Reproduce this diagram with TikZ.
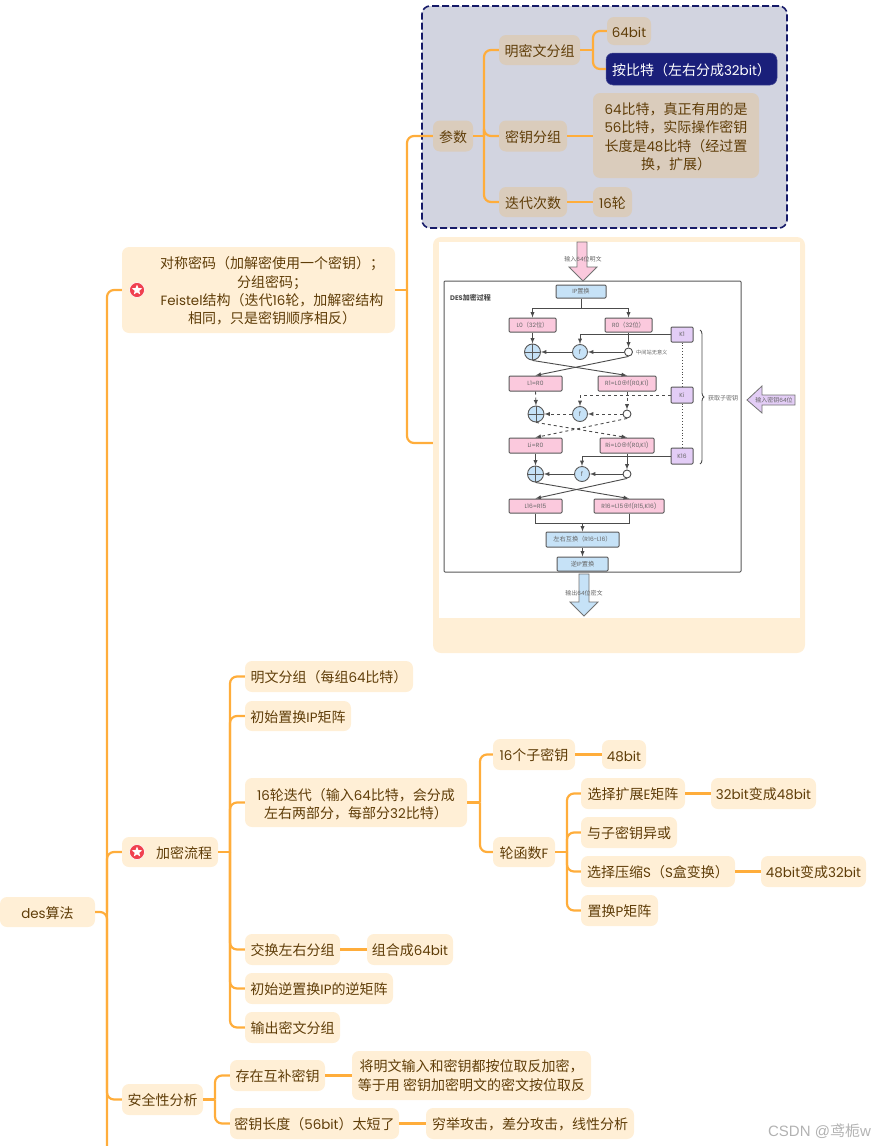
\documentclass[tikz,border=0pt]{standalone}
\usepackage{fontspec}
\setmainfont{Noto Sans CJK SC}
\newfontfamily\latinfont[Scale=0.96]{Poppins}
\newfontfamily\markfont{Liberation Sans}
\newcommand{\lat}[1]{{\latinfont #1}}
\usetikzlibrary{shapes.geometric,decorations.pathreplacing}
\definecolor{inkbrown}{HTML}{5F3D08}
\definecolor{branchcol}{HTML}{FFAD3B}
\definecolor{topiccol}{HTML}{FFEFD6}
\definecolor{tancol}{HTML}{DACCBC}
\definecolor{navycol}{HTML}{1A1F7A}
\definecolor{groupcol}{HTML}{D2D4E0}
\definecolor{pinkcol}{HTML}{FBC9DD}
\definecolor{bluecol}{HTML}{C6E2F7}
\definecolor{purplecol}{HTML}{E3CDF6}
\definecolor{markred}{HTML}{F0404F}
\tikzset{
	topic/.style={fill=topiccol,text=inkbrown,rounded corners=7,inner sep=0,align=center,font=\fontsize{14}{18.4}\selectfont,
		execute at begin node={\rule{0pt}{13.8pt}}},
	param/.style={topic,fill=tancol},
	branch/.style={draw=branchcol,line width=2.2pt,rounded corners=7},
	redmark/.style={circle,fill=markred,draw=white,line width=.6pt,minimum size=15,inner sep=0},
	whitestar/.style={star,star points=5,star point ratio=2.3,fill=white,minimum size=11,inner sep=0},
	flowbox/.style={draw=black!65,line width=1pt,rounded corners=1,inner sep=0,text=black!60,font=\fontsize{6.2}{8}\selectfont},
	pinkbox/.style={flowbox,fill=pinkcol},
	bluebox/.style={flowbox,fill=bluecol},
	keybox/.style={flowbox,fill=purplecol},
	flow/.style={draw=black!70,line width=.9pt,-latex},
	plainflow/.style={draw=black!70,line width=.9pt},
	xorcirc/.style={circle,fill=bluecol,draw=black!65,line width=.9pt,minimum size=16,inner sep=0,
		path picture={\draw[black!65,line width=.8pt] (path picture bounding box.north) -- (path picture bounding box.south)
			(path picture bounding box.west) -- (path picture bounding box.east);}},
	fcirc/.style={circle,fill=bluecol,draw=black!65,line width=.9pt,minimum size=15,inner sep=0,text=black!60,font=\fontsize{6.2}{8}\selectfont},
	midcirc/.style={circle,fill=white,draw=black!70,line width=.9pt,minimum size=8,inner sep=0},
	smalltext/.style={text=black!60,inner sep=0,font=\fontsize{6}{8}\selectfont},
}
\begin{document}
\begin{tikzpicture}[x=1pt,y=-1pt]
	\useasboundingbox (0,0) rectangle (877,1146);

	% parameter group and picture card
	\node[draw=navycol!85!black,fill=groupcol,line width=1.6pt,dash pattern=on 7pt off 3pt,rounded corners=8,minimum width=365,minimum height=222,inner sep=0] (group) at (604.5,117) {};
	\node[fill=topiccol,rounded corners=8,minimum width=372,minimum height=416,inner sep=0] (card) at (619,445) {};
	\node[fill=white,minimum width=361,minimum height=376,inner sep=0] (sheet) at (619.5,430) {};

	% first level
	\node[topic,minimum width=95,minimum height=30] (root) at (47.5,912) {\lat{des}算法};
	\node[topic,minimum width=273,minimum height=86] (sym) at (258.5,290) {};
	\node[topic,fill=none] (symtext) at (272,291) {对称密码（加解密使用一个密钥）；\\分组密码；\\\lat{Feistel}结构（迭代\lat{16}轮，加解密结构\\相同，只是密钥顺序相反）};
	\node[topic,minimum width=96,minimum height=30] (enc) at (170,852) {};
	\node[topic,fill=none] (enctext) at (184,852) {加密流程};
	\node[topic,minimum width=81,minimum height=31] (safe) at (162.5,1099.5) {安全性分析};
	\node[redmark] (mark1) at (137,290) {};
	\node[whitestar] (star1) at (mark1) {};
	\node[redmark] (mark2) at (137,852) {};
	\node[whitestar] (star2) at (mark2) {};

	% parameters
	\node[param,minimum width=40,minimum height=31] (par) at (453,136) {参数};
	\node[param,minimum width=81,minimum height=30] (plain) at (539.5,50) {明密文分组};
	\node[param,minimum width=68,minimum height=31] (keyg) at (533,136) {密钥分组};
	\node[param,minimum width=68,minimum height=30] (iter) at (533,202) {迭代次数};
	\node[param,minimum width=44,minimum height=28] (bit64) at (629,31) {\lat{64bit}};
	\node[topic,fill=navycol,text=white,draw=navycol!80!white,line width=.5pt,minimum width=171,minimum height=32] (lr) at (691.5,69) {按比特（左右分成\lat{32bit}）};
	\node[param,minimum width=166,minimum height=85] (keytext) at (676,135.5) {};
	\node[topic,fill=none] (keylines) at (676,137) {\lat{64}比特，真正有用的是\\\lat{56}比特，实际操作密钥\\长度是\lat{48}比特（经过置\\换，扩展）};
	\node[param,minimum width=39,minimum height=30] (rnd) at (612.5,202) {\lat{16}轮};

	% encryption steps
	\node[topic,minimum width=168,minimum height=31] (st1) at (329,676.5) {明文分组（每组\lat{64}比特）};
	\node[topic,minimum width=106,minimum height=30] (st2) at (298,716) {初始置换\lat{IP}矩阵};
	\node[topic,minimum width=222,minimum height=49] (st3) at (356,802.5) {};
	\node[topic,fill=none] (st3lines) at (356,804) {\lat{16}轮迭代（输入\lat{64}比特，会分成\\左右两部分，每部分\lat{32}比特）};
	\node[topic,minimum width=95,minimum height=31] (st4) at (292.5,949.5) {交换左右分组};
	\node[topic,minimum width=86,minimum height=31] (st4a) at (410,949.5) {组合成\lat{64bit}};
	\node[topic,minimum width=148,minimum height=31] (st5) at (319,988.5) {初始逆置换\lat{IP}的逆矩阵};
	\node[topic,minimum width=95,minimum height=31] (st6) at (292.5,1027.5) {输出密文分组};

	\node[topic,minimum width=82,minimum height=31] (sub) at (534,754.5) {\lat{16}个子密钥};
	\node[topic,minimum width=44,minimum height=29] (sub48) at (624,754.5) {\lat{48bit}};
	\node[topic,minimum width=62,minimum height=30] (ffun) at (524,852) {轮函数\lat{F}};
	\node[topic,minimum width=104,minimum height=31] (fe) at (633,793.5) {选择扩展\lat{E}矩阵};
	\node[topic,minimum width=105,minimum height=31] (fe48) at (763.5,793.5) {\lat{32bit}变成\lat{48bit}};
	\node[topic,minimum width=96,minimum height=31] (fx) at (629,832.5) {与子密钥异或};
	\node[topic,minimum width=154,minimum height=31] (fs) at (658,871.5) {选择压缩\lat{S}（\lat{S}盒变换）};
	\node[topic,minimum width=105,minimum height=31] (fs32) at (813.5,871.5) {\lat{48bit}变成\lat{32bit}};
	\node[topic,minimum width=77,minimum height=31] (fp) at (619.5,910.5) {置换\lat{P}矩阵};

	% security analysis
	\node[topic,minimum width=95,minimum height=31] (comp) at (277.5,1075.5) {存在互补密钥};
	\node[topic,minimum width=239,minimum height=49] (comptext) at (471.5,1075.5) {将明文输入和密钥都按位取反加密，\\等于用 密钥加密明文的密文按位取反};
	\node[topic,minimum width=169,minimum height=31] (short) at (314.5,1123.5) {密钥长度（\lat{56bit}）太短了};
	\node[topic,minimum width=208,minimum height=31] (attack) at (530,1123.5) {穷举攻击，差分攻击，线性分析};

	% mind map branches
	\coordinate (sproot) at (107,912);
	\coordinate (trunkend) at (107,1146);
	\draw[branch] (root.east) -- (sproot) -- (trunkend);
	\foreach \k in {sym,enc,safe} \draw[branch] (sproot) |- (\k.west);

	\coordinate (spsym) at (407,290);
	\draw[branch] (sym.east) -- (spsym);
	\draw[branch] (spsym) |- (par.west);
	\draw[branch] (spsym) |- (card.west |- 0,443);

	\coordinate (sppar) at (484,136);
	\draw[branch] (par.east) -- (sppar);
	\foreach \k in {plain,keyg,iter} \draw[branch] (sppar) |- (\k.west);
	\coordinate (spplain) at (593,50);
	\draw[branch] (plain.east) -- (spplain);
	\foreach \k in {bit64,lr} \draw[branch] (spplain) |- (\k.west);
	\draw[branch] (keyg.east) -- (keytext.west |- keyg.east);
	\draw[branch] (iter.east) -- (rnd.west);

	\coordinate (spenc) at (230,852);
	\draw[branch] (enc.east) -- (spenc);
	\foreach \k in {st1,st2,st3,st4,st5,st6} \draw[branch] (spenc) |- (\k.west);
	\draw[branch] (st4.east) -- (st4a.west);
	\coordinate (spround) at (480,802.5);
	\draw[branch] (st3.east) -- (spround);
	\foreach \k in {sub,ffun} \draw[branch] (spround) |- (\k.west);
	\draw[branch] (sub.east) -- (sub48.west);
	\coordinate (spf) at (567,852);
	\draw[branch] (ffun.east) -- (spf);
	\foreach \k in {fe,fx,fs,fp} \draw[branch] (spf) |- (\k.west);
	\draw[branch] (fe.east) -- (fe48.west);
	\draw[branch] (fs.east) -- (fs32.west);

	\coordinate (spsafe) at (215,1099.5);
	\draw[branch] (safe.east) -- (spsafe);
	\foreach \k in {comp,short} \draw[branch] (spsafe) |- (\k.west);
	\draw[branch] (comp.east) -- (comptext.west);
	\draw[branch] (short.east) -- (attack.west);

	% des picture on the card
	\node[draw=black!65,line width=1pt,rounded corners=1,minimum width=297,minimum height=291,inner sep=0] (frame) at (592.5,426.5) {};
	\node[anchor=west,inner sep=0,text=black!70,font=\bfseries\fontsize{7}{8}\selectfont] (destitle) at (450,298) {\lat{DES}加密过程};
	\draw[draw=black!55,fill=pinkcol,line width=.8pt] (577,242) -- (587,242) -- (587,267) -- (597,267) -- (583,281) -- (569,267) -- (577,267) -- cycle;
	\node[smalltext] (intext) at (583,259) {输入\lat{64}位明文};
	\draw[draw=black!55,fill=bluecol,line width=.8pt] (579,574) -- (589,574) -- (589,602) -- (598,602) -- (584,616) -- (570,602) -- (579,602) -- cycle;
	\node[smalltext] (outtext) at (584,593) {输出\lat{64}位密文};
	\draw[draw=black!55,fill=purplecol,line width=.8pt] (795,395) -- (795,405) -- (762,405) -- (762,413) -- (747,400) -- (762,386) -- (762,395) -- cycle;
	\node[smalltext] (keyin) at (774,400) {输入密钥\lat{64}位};

	\node[bluebox,minimum width=50,minimum height=13] (ip) at (581,291.5) {\lat{IP}置换};
	\node[pinkbox,minimum width=47,minimum height=14] (L0) at (532.5,325) {\lat{L0}（\lat{32}位）};
	\node[pinkbox,minimum width=47,minimum height=14] (R0) at (628.5,325) {\lat{R0}（\lat{32}位）};
	\node[xorcirc] (xor1) at (532.5,352) {};
	\node[fcirc] (f1) at (580,352) {f};
	\node[midcirc] (mid1) at (628.5,352) {};
	\node[smalltext,anchor=west,font=\fontsize{5.2}{7}\selectfont] (midtext) at (636,352) {中间站无意义};
	\node[pinkbox,minimum width=53,minimum height=15] (L1) at (535.5,383.5) {\lat{L1=R0}};
	\node[pinkbox,minimum width=58,minimum height=15] (R1) at (627,383.5) {\lat{R1=L0}⊕\lat{f(R0,K1)}};
	\node[xorcirc] (xor2) at (536,414) {};
	\node[fcirc] (f2) at (580,414) {f};
	\node[midcirc] (mid2) at (627,414) {};
	\node[pinkbox,minimum width=53,minimum height=15] (Li) at (535.5,445.5) {\lat{Li=R0}};
	\node[pinkbox,minimum width=54,minimum height=15] (Ri) at (627,445.5) {\lat{Ri=L0}⊕\lat{f(R0,K1)}};
	\node[xorcirc] (xor3) at (535.5,474) {};
	\node[fcirc] (f3) at (582,474) {f};
	\node[midcirc] (mid3) at (627,474) {};
	\node[pinkbox,minimum width=53,minimum height=14] (L16) at (535.5,506) {\lat{L16=R15}};
	\node[pinkbox,minimum width=70,minimum height=14] (R16) at (629,506) {\lat{R16=L15}⊕\lat{f(R15,K16)}};
	\node[bluebox,minimum width=73,minimum height=15] (swap) at (582.5,539.5) {左右互换（\lat{R16-L16}）};
	\node[bluebox,minimum width=51,minimum height=14] (invip) at (582.5,564) {逆\lat{IP}置换};
	\node[keybox,minimum width=22,minimum height=15] (K1) at (682,334.5) {\lat{K1}};
	\node[keybox,minimum width=22,minimum height=16] (Ki) at (682,395) {\lat{Ki}};
	\node[keybox,minimum width=22,minimum height=16] (K16) at (682,456) {\lat{K16}};
	\coordinate (kbracetop) at (700,330);
	\coordinate (kbracebot) at (700,464);
	\node[smalltext,anchor=west] (kbracetext) at (708,398) {获取子密钥};

	\coordinate (ipfork) at (581,308);
	\draw[plainflow] (ip.south) -- (ipfork);
	\draw[flow] (ipfork) -| (L0.north);
	\draw[flow] (ipfork) -| (R0.north);
	\coordinate (mergept) at (582.5,523);
	\draw[plainflow] (L16.south) |- (mergept);
	\draw[plainflow] (R16.south) |- (mergept);
	\draw[flow] (mergept) -- (swap.north);
	\draw[flow] (swap.south) -- (invip.north);

	\draw[flow] (L0.south) -- (xor1.north);
	\draw[flow] (R0.south) -- (mid1.north);
	\draw[flow] (mid1.west) -- (f1.east);
	\draw[flow] (f1.west) -- (xor1.east);
	\draw[flow] (K1.west) -| (f1.north);
	\draw[flow] (xor1.south) -- (R1.north);
	\draw[flow] (mid1.south) -- (L1.north);

	\draw[flow,dashed] (L1.south) -- (xor2.north);
	\draw[flow,dashed] (R1.south) -- (mid2.north);
	\draw[flow,dashed] (mid2.west) -- (f2.east);
	\draw[flow,dashed] (f2.west) -- (xor2.east);
	\draw[flow,dashed] (Ki.west) -| (f2.north);
	\draw[flow,dashed] (xor2.south) -- (Ri.north);
	\draw[flow,dashed] (mid2.south) -- (Li.north);

	\draw[flow] (Li.south) -- (xor3.north);
	\draw[flow] (Ri.south) -- (mid3.north);
	\draw[flow] (mid3.west) -- (f3.east);
	\draw[flow] (f3.west) -- (xor3.east);
	\draw[flow] (K16.west) -| (f3.north);
	\draw[flow] (xor3.south) -- (R16.north);
	\draw[flow] (mid3.south) -- (L16.north);

	\draw[plainflow,dotted] (K1.south) -- (Ki.north);
	\draw[plainflow,dotted] (Ki.south) -- (K16.north);
	\draw[plainflow,decorate,decoration={brace,amplitude=4pt}] (kbracetop) -- (kbracebot);

	% watermark
	\node[inner sep=0,text=black!30,font=\fontsize{15}{17}\selectfont] (mark) at (819.5,1131) {{\markfont CSDN @}鸢栀{\markfont w}};
\end{tikzpicture}
\end{document}
